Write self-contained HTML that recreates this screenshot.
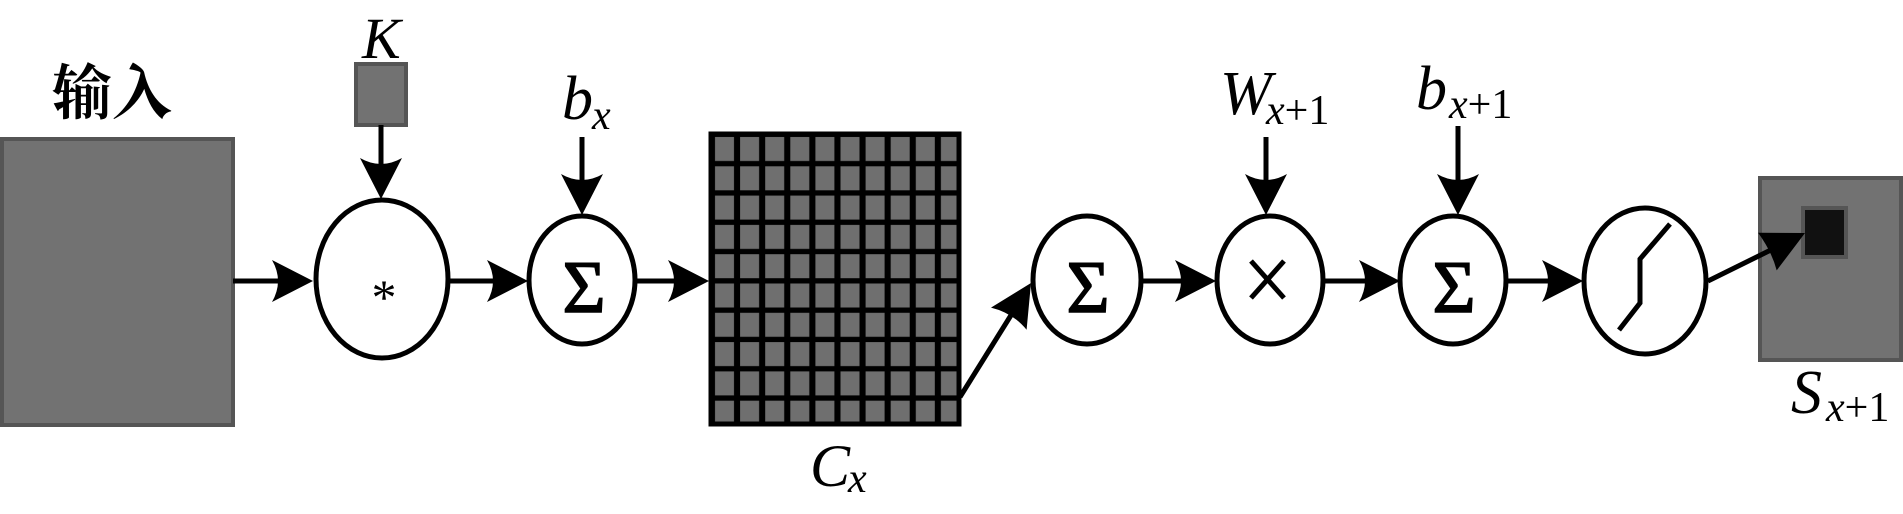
<!DOCTYPE html>
<html><head><meta charset="utf-8"><style>
html,body{margin:0;padding:0;background:#fff;}
svg{display:block;}
</style></head><body>
<svg width="1903" height="514" viewBox="0 0 1903 514" xmlns="http://www.w3.org/2000/svg">
<defs>
<pattern id="cells" x="709" y="132" width="25.1" height="29.3" patternUnits="userSpaceOnUse">
<rect x="0" y="0" width="25.1" height="29.3" fill="#000"/>
<rect x="6" y="5" width="19" height="24" fill="#6f6f6f"/>
</pattern>
</defs>
<g font-family="Liberation Serif, serif">
<!-- input -->
<rect x="2" y="139" width="231" height="286" fill="#727272" stroke="#555" stroke-width="4"/>
<text x="52" y="114" font-family="Noto Serif CJK SC, Noto Sans CJK SC, serif" font-size="60" font-weight="bold">输入</text>
<!-- K -->
<rect x="356" y="64" width="50" height="61" fill="#727272" stroke="#555" stroke-width="4"/>
<text x="362" y="58" font-size="58" font-style="italic">K</text>
<!-- grid -->
<rect x="709" y="132" width="252" height="294" fill="url(#cells)"/>
<rect x="711" y="134" width="248" height="290" fill="none" stroke="#000" stroke-width="5"/>
<text x="810" y="486" font-size="60" font-style="italic">C</text>
<text x="848" y="492" font-size="42" font-style="italic">x</text>
<!-- output -->
<rect x="1760" y="178" width="141" height="182" fill="#727272" stroke="#555" stroke-width="4"/>
<rect x="1803" y="208" width="43" height="49" fill="#111" stroke="#555" stroke-width="4"/>
<text x="1791" y="413" font-size="62" font-style="italic">S</text>
<text x="1826" y="421" font-size="42"><tspan font-style="italic">x</tspan>+1</text>
<!-- labels -->
<text x="562" y="119" font-size="62" font-style="italic">b</text>
<text x="592" y="129" font-size="42" font-style="italic">x</text>
<text x="1220" y="114" font-size="62" font-style="italic">W</text>
<text x="1266" y="124" font-size="42"><tspan font-style="italic">x</tspan>+1</text>
<text x="1416" y="109" font-size="62" font-style="italic">b</text>
<text x="1449" y="118" font-size="42"><tspan font-style="italic">x</tspan>+1</text>
<!-- lines -->
<g stroke="#000" stroke-width="5" fill="none">
<line x1="233" y1="281" x2="300" y2="281"/>
<line x1="450" y1="281" x2="515" y2="281"/>
<line x1="637" y1="281" x2="700" y2="281"/>
<line x1="1141" y1="281" x2="1205" y2="281"/>
<line x1="1324" y1="281" x2="1390" y2="281"/>
<line x1="1506" y1="281" x2="1572" y2="281"/>
<line x1="381" y1="125" x2="381" y2="185"/>
<line x1="582" y1="137" x2="582" y2="200"/>
<line x1="1266" y1="137" x2="1266" y2="200"/>
<line x1="1458" y1="126" x2="1458" y2="200"/>
<line x1="960" y1="397" x2="1018" y2="304"/>
<line x1="1708" y1="281" x2="1785" y2="243"/>
</g>
<!-- arrowheads -->
<g fill="#000">
<path d="M313,281 L272,260 Q284,281 272,302 Z"/>
<path d="M528,281 L487,260 Q499,281 487,302 Z"/>
<path d="M709,281 L668,260 Q680,281 668,302 Z"/>
<path d="M1216,281 L1175,260 Q1187,281 1175,302 Z"/>
<path d="M1400,281 L1359,260 Q1371,281 1359,302 Z"/>
<path d="M1583,281 L1542,260 Q1554,281 1542,302 Z"/>
<path d="M381,199 L360,158 Q381,170 402,158 Z"/>
<path d="M582,215 L561,174 Q582,186 603,174 Z"/>
<path d="M1266,215 L1245,174 Q1266,186 1287,174 Z"/>
<path d="M1458,215 L1437,174 Q1458,186 1479,174 Z"/>
<path d="M1031,283 L1026.6,329.8 Q1013,313 991,307.6 Z"/>
<path d="M1805,233 L1776.7,270.4 Q1772,252 1758.1,232.8 Z"/>
</g>
<!-- ellipses -->
<g fill="#fff" stroke="#000" stroke-width="5">
<ellipse cx="382" cy="279" rx="66" ry="79"/>
<ellipse cx="582" cy="280" rx="53" ry="64"/>
<ellipse cx="1087" cy="280" rx="54" ry="64"/>
<ellipse cx="1270" cy="280" rx="53" ry="64"/>
<ellipse cx="1453" cy="280" rx="53" ry="64"/>
<ellipse cx="1645" cy="281" rx="61" ry="73"/>
</g>
<!-- symbols -->
<text x="384" y="314" font-size="50" text-anchor="middle">*</text>
<g font-size="74" text-anchor="middle" stroke="#000" stroke-width="1.5">
<text x="584" y="312">Σ</text>
<text x="1088" y="312">Σ</text>
<text x="1454" y="312">Σ</text>
</g>
<g stroke="#000" stroke-width="5" fill="none">
<line x1="1251" y1="261" x2="1284" y2="298"/>
<line x1="1284" y1="261" x2="1251" y2="298"/>
<polyline points="1670,224 1640,259 1640,303 1619,330"/>
</g>
</g>
</svg>
</body></html>
